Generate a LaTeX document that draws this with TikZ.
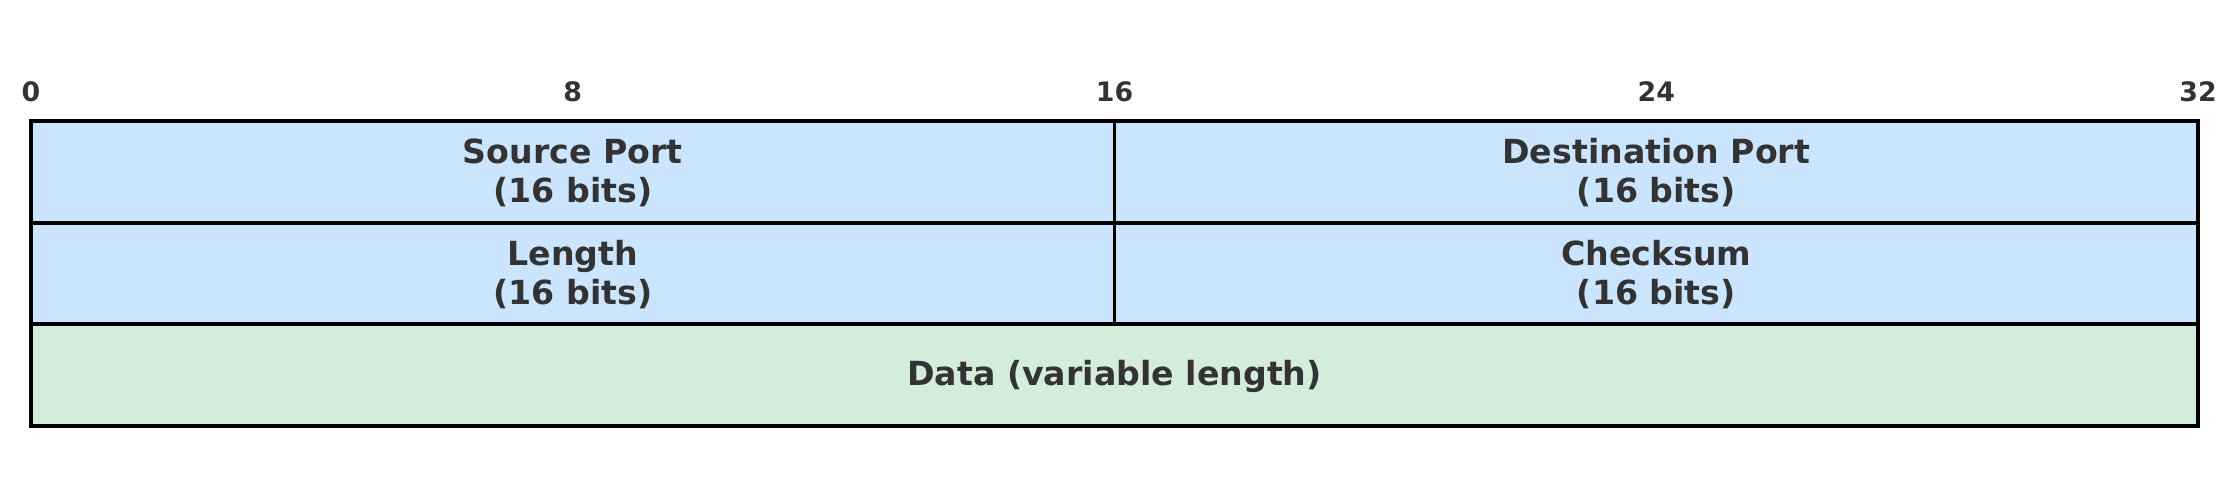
\documentclass[tikz,border=0pt]{standalone}
\usepackage{fontspec}
\setmainfont{DejaVu Sans}
\usepackage{tikz}
\usetikzlibrary{positioning}
\usepackage{xcolor}

\definecolor{hdrblue}{HTML}{CCE5FF}
\definecolor{datagreen}{HTML}{D4EDDA}
\definecolor{txtgray}{HTML}{333333}

\tikzset{
  fieldbox/.style={draw=black, line width=1.9pt},
  fieldtext/.style={text=txtgray, align=center, inner sep=0pt,
    font=\bfseries\fontsize{16.6}{19.3}\selectfont},
  bitlabel/.style={text=txtgray, inner sep=0pt,
    font=\bfseries\fontsize{13.4}{16}\selectfont}
}

\begin{document}
\begin{tikzpicture}[x=33.86pt, y=50.83pt]
  \useasboundingbox (-0.458,-3.531) rectangle (32.605,1.19);
  % bit positions
  \foreach \b in {0,8,16,24,32}
    \node[bitlabel] (bit\b) at (\b,0.285) {\b};
  % header rows
  \draw[fieldbox, fill=hdrblue] (0,0) rectangle (16,-1);
  \draw[fieldbox, fill=hdrblue] (16,0) rectangle (32,-1);
  \draw[fieldbox, fill=hdrblue] (0,-1) rectangle (16,-2);
  \draw[fieldbox, fill=hdrblue] (16,-1) rectangle (32,-2);
  % payload
  \draw[fieldbox, fill=datagreen] (0,-2) rectangle (32,-3);
  \node[fieldtext] (srcport) at (8,-0.51) {Source Port\\(16 bits)};
  \node[fieldtext] (dstport) at (24,-0.51) {Destination Port\\(16 bits)};
  \node[fieldtext] (length) at (8,-1.51) {Length\\(16 bits)};
  \node[fieldtext] (checksum) at (24,-1.51) {Checksum\\(16 bits)};
  \node[fieldtext] (data) at (16,-2.51) {Data (variable length)};
\end{tikzpicture}
\end{document}
